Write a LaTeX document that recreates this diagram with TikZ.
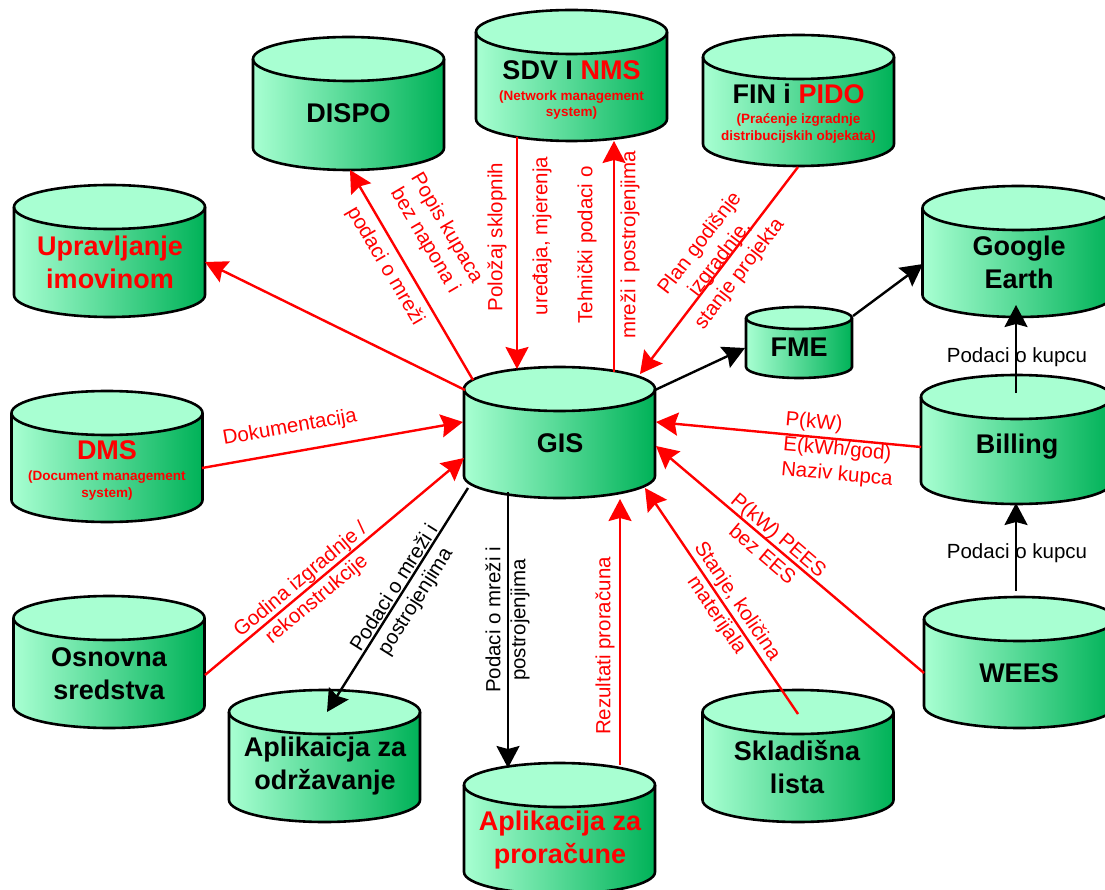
\documentclass[tikz,border=0pt]{standalone}
\usepackage{fontspec}
\setmainfont{Liberation Sans}
\usetikzlibrary{arrows.meta,calc}

\definecolor{mint}{RGB}{168,255,210}
\definecolor{deepgreen}{RGB}{0,178,88}
\definecolor{linkred}{RGB}{255,0,0}

\tikzset{
  dbedge/.style={line width=2.6pt, black, line join=round},
  dbhold/.style={draw=none, inner sep=0pt, outer sep=0pt, shape=rectangle},
  dbtext/.style={font=\bfseries\fontsize{27}{33}\selectfont, align=center, inner sep=0pt},
  dbsub/.style={font=\bfseries\fontsize{13.5}{16.5}\selectfont, align=center, text=linkred, inner sep=0pt},
  flow/.style={line width=2.4pt, -{Stealth[length=22pt,width=23pt,inset=3pt]}},
  redflow/.style={flow, draw=linkred, fill=linkred},
  blackflow/.style={flow, draw=black, fill=black},
  lbl/.style={font=\fontsize{20.5}{25}\selectfont, align=center, inner sep=0pt},
  redlbl/.style={lbl, text=linkred},
}

% database cylinder: [half height of the ellipse]{name}{centre x}{top y}{width}{height}
\newcommand\dbcyl[6][22]{%
  \fill[left color=mint, right color=deepgreen]
    ({#3-#5/2},{#4+#1}) -- ({#3-#5/2},{#4+#6-#1})
    arc[start angle=180, end angle=0, x radius={#5/2}, y radius=#1]
    -- ({#3+#5/2},{#4+#1}) -- cycle;
  \fill[mint] (#3,{#4+#1}) ellipse[x radius={#5/2}, y radius=#1];
  \draw[dbedge] ({#3-#5/2},{#4+#1}) -- ({#3-#5/2},{#4+#6-#1})
    arc[start angle=180, end angle=0, x radius={#5/2}, y radius=#1]
    -- ({#3+#5/2},{#4+#1});
  \draw[dbedge] (#3,{#4+#1}) ellipse[x radius={#5/2}, y radius=#1];
  \node[dbhold, minimum width={#5}, minimum height={#6}] (#2) at (#3,{#4+#6/2}) {};
}

\begin{document}
\begin{tikzpicture}[x=1pt, y=-1pt]
\useasboundingbox (0,0) rectangle (1105,890);
\fill[white] (0,0) rectangle (1105,890);

% stores
\dbcyl{dispo}{348.5}{37}{191}{133}
\dbcyl{sdv}{571.5}{10}{191}{131}
\dbcyl{fin}{798.5}{35}{191}{131}
\dbcyl{ge}{1018}{186}{191}{131}
\dbcyl[11]{fme}{799}{307}{106}{71}
\dbcyl{bill}{1016.5}{375}{191}{129}
\dbcyl{wees}{1019.5}{597}{191}{131}
\dbcyl{skl}{798}{690}{191}{132}
\dbcyl{apr}{559.5}{763}{191}{131}
\dbcyl{aodr}{324.5}{690}{191}{132}
\dbcyl{osn}{109}{596}{191}{132}
\dbcyl{dms}{107}{391}{191}{131}
\dbcyl{upr}{109.5}{185}{191}{132}
\dbcyl{gis}{559.5}{367}{191}{131}

% store titles
\node[dbtext] (dispo-t) at (348.5,113) {DISPO};
\node[dbtext] (sdv-t) at (571.5,70) {SDV I \textcolor{linkred}{NMS}};
\node[dbsub] (sdv-s) at (571.5,105) {(Network management\\system)};
\node[dbtext] (fin-t) at (798.5,94) {FIN i \textcolor{linkred}{PIDO}};
\node[dbsub] (fin-s) at (798.5,128.5) {(Praćenje izgradnje\\distribucijskih objekata)};
\node[dbtext] (ge-t) at (1019,262.5) {Google\\Earth};
\node[dbtext] (fme-t) at (799,347) {FME};
\node[dbtext] (bill-t) at (1017,447) {Billing};
\node[dbtext] (wees-t) at (1019,673) {WEES};
\node[dbtext] (skl-t) at (797,767.5) {Skladišna\\lista};
\node[dbtext, text=linkred] (apr-t) at (560,840) {Aplikacija za\\proračune};
\node[dbtext] (aodr-t) at (325,766.5) {Aplikaicja za\\održavanje};
\node[dbtext] (osn-t) at (109,673.5) {Osnovna\\sredstva};
\node[dbtext, text=linkred] (dms-t) at (107,450) {DMS};
\node[dbsub] (dms-s) at (107,485.5) {(Document management\\system)};
\node[dbtext, text=linkred] (upr-t) at (110,262.5) {Upravljanje\\imovinom};
\node[dbtext] (gis-t) at (560,443) {GIS};

% data flows
\draw[redflow] ($(gis)+(-94.5,-42.5)$) -- ($(upr)+(95.5,11)$);
\draw[redflow] ($(gis)+(-86.5,-52.5)$) -- ($(dispo)+(1.5,66.5)$);
\draw[redflow] ($(sdv)+(-54.5,61.5)$) -- ($(gis)+(-42.5,-63.5)$);
\draw[redflow] ($(gis)+(54.5,-60.5)$) -- ($(sdv)+(42.5,65.5)$);
\draw[redflow] ($(fin)+(-0.5,66.5)$) -- ($(gis)+(80.5,-58.5)$);
\draw[blackflow] ($(gis)+(95.5,-42.5)$) -- ($(fme)+(-54,5.5)$);
\draw[blackflow] ($(fme)+(54,-26.5)$) -- ($(ge)+(-95,12.5)$);
\draw[blackflow] ($(bill)+(-0.5,-46.5)$) -- ($(ge)+(-2,53.5)$);
\draw[blackflow] ($(wees)+(-3.5,-71.5)$) -- ($(bill)+(-0.5,63.5)$);
\draw[redflow] ($(bill)+(-95.5,7.5)$) -- ($(gis)+(96.5,-10.5)$);
\draw[redflow] ($(wees)+(-95.5,10.5)$) -- ($(gis)+(96.5,13.5)$);
\draw[redflow] ($(skl)+(0,-42)$) -- ($(gis)+(85.5,55.5)$);
\draw[blackflow] ($(gis)+(-51.5,59.5)$) -- ($(apr)+(-51.5,-60.5)$);
\draw[redflow] ($(apr)+(60.5,-63.5)$) -- ($(gis)+(60.5,66.5)$);
\draw[blackflow] ($(gis)+(-91.5,55.5)$) -- ($(aodr)+(2.5,-44)$);
\draw[redflow] ($(osn)+(96,13)$) -- ($(gis)+(-95.5,25.5)$);
\draw[redflow] ($(dms)+(95,11.5)$) -- ($(gis)+(-96.5,-10.5)$);

% flow labels
\node[redlbl, rotate=-59.6] (l-popis) at (435.5,234.5) {Popis kupaca\\bez napona i};
\node[redlbl, rotate=-59.6] (l-podaci) at (385,266) {podaci o mreži};
\node[redlbl, rotate=90] (l-polozaj) at (497,237) {Položaj sklopnih};
\node[redlbl, rotate=90] (l-uredaja) at (542,236) {uređaja, mjerenja};
\node[redlbl, rotate=90] (l-teh) at (587,245) {Tehnički podaci o};
\node[redlbl, rotate=90] (l-mrezi) at (630,245) {mreži i postrojenjima};
\node[redlbl, rotate=52.6] (l-plan) at (720,259) {Plan godišnje\\izgradnje,\\stanje projekta};
\node[redlbl, rotate=-5, align=left] (l-pkw) at (839,450) {P(kW)\\E(kWh/god)\\Naziv kupca};
\node[redlbl, rotate=-40.3] (l-pees) at (771,544) {P(kW) PEES\\bez EES};
\node[redlbl, rotate=-55.9] (l-stanje) at (726.5,608.5) {Stanje, količina\\materijala};
\node[lbl, rotate=90] (l-mreza1) at (507.5,620) {Podaci o mreži i\\postrojenjima};
\node[redlbl, rotate=90] (l-rez) at (605,646) {Rezultati proračuna};
\node[lbl, rotate=57.8] (l-mreza2) at (405.5,595) {Podaci o mreži i\\postrojenjima};
\node[redlbl, rotate=40] (l-godina) at (309,590) {Godina izgradnje /\\rekonstrukcije};
\node[redlbl, rotate=10] (l-dok) at (290,428) {Dokumentacija};
\node[lbl] (l-kupac1) at (1017,357) {Podaci o kupcu};
\node[lbl] (l-kupac2) at (1017,553) {Podaci o kupcu};
\end{tikzpicture}
\end{document}
